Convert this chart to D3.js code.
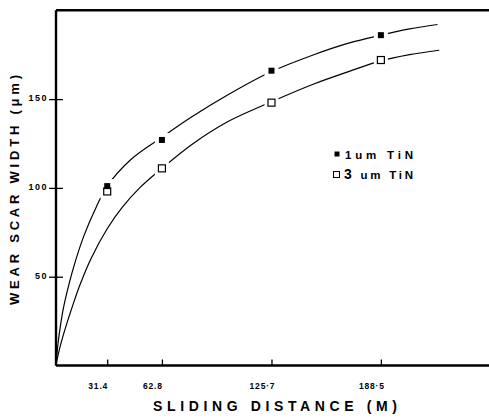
<!DOCTYPE html>
<html><head><meta charset="utf-8">
<script src="https://cdn.jsdelivr.net/npm/d3@7"></script>
<style>body{margin:0;background:#fff;} svg{display:block;}</style>
</head><body>
<svg id="c" width="489" height="420"></svg>
<script>
// ---- data ----
const xTicks = [31.4, 62.8, 125.7, 188.5];
const xTickLabels = ["31.4", "62.8", "125·7", "188·5"];
const yTicks = [50, 100, 150];
const seriesNames = ["1um TiN", "3 um TiN"];
const marker1x = [31.4, 62.8, 125.7, 188.5];
const marker1y = [101, 127, 166, 186];
const marker3x = [31.4, 62.8, 125.7, 188.5];
const marker3y = [98, 111, 148, 172];
// fitted curves
const curve1x = [2, 3, 4.5, 6, 8, 12, 18, 25, 31.4, 45, 62.8, 80, 100, 125.7, 150, 170, 188.5, 205, 221];
const curve1y = [0, 11, 22, 31, 40, 55, 73, 89, 101, 116, 128.5, 140, 152, 165.5, 175, 181.5, 186, 189.5, 192];
const curve3x = [2, 3, 5, 8, 12, 16, 22, 31.4, 40, 50, 62.8, 80, 100, 125.7, 150, 170, 188.5, 205, 222];
const curve3y = [0, 5, 13, 23, 35, 46, 60, 77, 89, 100, 111, 124.5, 137, 148.5, 158.5, 165.5, 171.5, 175, 177.5];

const svg = d3.select("#c");
const x = d3.scaleLinear().domain([2, 250]).range([56, 488]);
const y = d3.scaleLinear().domain([0, 200]).range([365.5, 10.3]);
const font = "'Liberation Sans', Arial, sans-serif";

// frame
svg.append("line").attr("x1", 56).attr("x2", 489).attr("y1", y(200)).attr("y2", y(200))
  .attr("stroke", "#000").attr("stroke-width", 2.4);
// axes
const xAxis = d3.axisBottom(x).tickValues(xTicks).tickSize(-6).tickFormat("");
const gx = svg.append("g").attr("transform", `translate(0,${y(0)})`).call(xAxis);
gx.select(".domain").attr("d", `M56,0H489`).attr("stroke-width", 2.4);
gx.selectAll(".tick line").attr("stroke-width", 1.3);
const yAxis = d3.axisLeft(y).tickValues(yTicks).tickSize(7).tickFormat("");
const gy = svg.append("g").attr("transform", `translate(56,0)`).call(yAxis);
gy.select(".domain").attr("d", `M0,${y(200)}V${y(0)}`).attr("stroke-width", 2.4);
gy.selectAll(".tick line").attr("x2", 7).attr("x1", -7).attr("stroke-width", 1.3);

// tick labels
svg.selectAll(".xl").data(xTicks).enter().append("text")
  .attr("x", (d) => x(d) - 9).attr("y", 389)
  .attr("text-anchor", "middle").attr("font-family", font).attr("font-weight", "bold")
  .attr("font-size", 8.5).attr("letter-spacing", 0.8)
  .text((d, i) => xTickLabels[i]);
svg.selectAll(".yl").data(yTicks).enter().append("text")
  .attr("x", 48).attr("y", (d) => y(d) + 2)
  .attr("text-anchor", "end").attr("font-family", font).attr("font-weight", "bold")
  .attr("font-size", 9).attr("letter-spacing", 1.5)
  .text((d) => d);

// titles
svg.append("text").attr("x", 275).attr("y", 411).attr("text-anchor", "middle")
  .attr("font-family", font).attr("font-size", 14).attr("font-weight", "bold")
  .attr("textLength", 244).attr("lengthAdjust", "spacing")
  .text("SLIDING DISTANCE (M)");
svg.append("text").attr("transform", "translate(19,190) rotate(-90)").attr("text-anchor", "middle")
  .attr("font-family", font).attr("font-size", 13).attr("font-weight", "bold")
  .attr("textLength", 230).attr("lengthAdjust", "spacing")
  .text("WEAR SCAR WIDTH (μm)");

// curves
const line = d3.line().x((d) => x(d[0])).y((d) => y(d[1])).curve(d3.curveCatmullRom.alpha(0.5));
[[curve1x, curve1y], [curve3x, curve3y]].forEach(([cx, cy]) => {
  svg.append("path").datum(cx.map((v, i) => [v, cy[i]]))
    .attr("d", line).attr("fill", "none").attr("stroke", "#000").attr("stroke-width", 1.2);
});

// markers with white gaps
const m1 = marker1x.map((v, i) => [v, marker1y[i]]);
const m3 = marker3x.map((v, i) => [v, marker3y[i]]);
svg.selectAll(".gap").data(m1.concat(m3)).enter().append("rect")
  .attr("x", (d) => x(d[0]) - 7).attr("y", (d) => y(d[1]) - 7)
  .attr("width", 14).attr("height", 14).attr("fill", "#fff");
svg.selectAll(".m3").data(m3).enter().append("rect")
  .attr("x", (d) => x(d[0]) - 3.5).attr("y", (d) => y(d[1]) - 3.5)
  .attr("width", 7).attr("height", 7).attr("fill", "#fff").attr("stroke", "#000").attr("stroke-width", 1.2);
svg.selectAll(".m1").data(m1).enter().append("rect")
  .attr("x", (d) => x(d[0]) - 3).attr("y", (d) => y(d[1]) - 3)
  .attr("width", 6).attr("height", 6).attr("fill", "#000");

// legend
svg.append("rect").attr("x", 334.5).attr("y", 151.5).attr("width", 5).attr("height", 5).attr("fill", "#000");
svg.append("text").attr("x", 345).attr("y", 158.5).attr("font-family", font).attr("font-size", 11.5)
  .attr("font-weight", "bold").attr("textLength", 68).attr("lengthAdjust", "spacing").text(seriesNames[0]);
svg.append("rect").attr("x", 333.5).attr("y", 171.5).attr("width", 6).attr("height", 6)
  .attr("fill", "#fff").attr("stroke", "#000").attr("stroke-width", 1);
const t3 = svg.append("text").attr("x", 344).attr("y", 179).attr("font-family", font).attr("font-size", 11.5)
  .attr("font-weight", "bold").attr("textLength", 69).attr("lengthAdjust", "spacing");
t3.append("tspan").attr("font-size", 14).text(seriesNames[1].slice(0, 1));
t3.append("tspan").text(seriesNames[1].slice(1));
</script>
</body></html>
